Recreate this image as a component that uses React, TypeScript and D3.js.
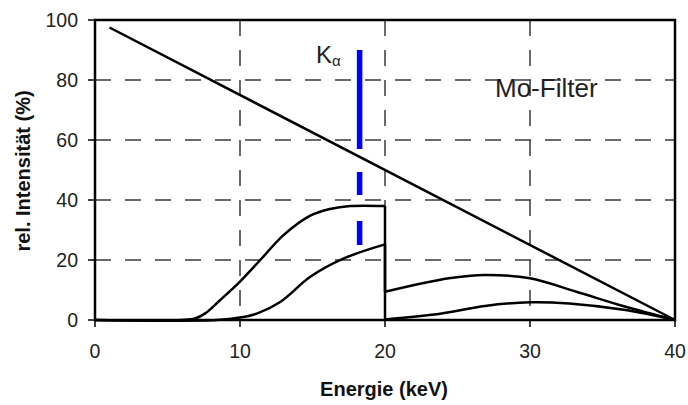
import React from 'react';
import * as d3 from 'd3';

// energy in keV, relative intensity in %
const bremsLine: [number, number][] = [
  [1, 97.5],
  [40, 0],
];

const upperBelowEdge: [number, number][] = [
  [0, 0], [6, 0], [6.9, 0.5], [7.6, 2.2], [8.6, 6.5], [10, 12.8], [11.4, 20], [13, 28.3],
  [14.85, 34.8], [16.2, 37], [17.6, 38], [20, 38],
];
const upperAboveEdge: [number, number][] = [
  [20, 9.4], [24.4, 13.9], [26.9, 15], [30, 13.9], [33.2, 9.4], [36.6, 4.4], [40, 0],
];

const lowerBelowEdge: [number, number][] = [
  [0, 0], [8.4, 0], [10, 0.8], [11.2, 2.2], [12.8, 6.1], [14.85, 14.4], [17.2, 20.6], [20, 25.2],
];
const lowerAboveEdge: [number, number][] = [
  [20, 0.2], [23.9, 2.2], [26.9, 4.7], [30, 5.9], [32.7, 5.5], [36.6, 3.3], [40, 0],
];

const kAlphaEnergy = 18.25;
const kAlphaRange = [25, 90];

const xTicks = [0, 10, 20, 30, 40];
const yTicks = [0, 20, 40, 60, 80, 100];
const xGrid = [10, 20, 30];
const yGrid = [20, 40, 60, 80];

const W = 688;
const H = 405;
const left = 95;
const right = 675;
const top = 20;
const bottom = 320;

export default function App() {
  const x = d3.scaleLinear().domain([0, 40]).range([left, right]);
  const y = d3.scaleLinear().domain([0, 100]).range([bottom, top]);

  const curve = d3
    .line<[number, number]>()
    .x((d) => x(d[0]))
    .y((d) => Math.min(y(d[1]), bottom))
    .curve(d3.curveCatmullRom.alpha(0.5));
  const straight = d3
    .line<[number, number]>()
    .x((d) => x(d[0]))
    .y((d) => y(d[1]));

  // vertical drop at the absorption edge
  const edge = (a: [number, number][], b: [number, number][]) =>
    straight([a[a.length - 1], b[0]]) || '';

  const font = 'Arial, "Liberation Sans", sans-serif';
  const gridStyle = { stroke: '#3a3a3a', strokeWidth: 1.5, strokeDasharray: '16 14' };
  const lineStyle = { fill: 'none', stroke: '#000', strokeWidth: 2.5 };

  return (
    <svg width={W} height={H} style={{ position: 'absolute', left: 0, top: 0 }} fontFamily={font}>
      <rect x={0} y={0} width={W} height={H} fill="#fff" />

      {/* grid */}
      {yGrid.map((v) => (
        <line key={'gy' + v} x1={left} x2={right} y1={y(v)} y2={y(v)} {...gridStyle} />
      ))}
      {xGrid.map((v) => (
        <line key={'gx' + v} x1={x(v)} x2={x(v)} y1={top} y2={bottom} {...gridStyle} />
      ))}

      {/* labels inside */}
      <text x={316} y={63} fontSize={24} fill="#222">
        K
        <tspan fontSize={15} dy={3}>α</tspan>
      </text>
      <text x={495} y={97} fontSize={26} fill="#222">Mo-Filter</text>

      {/* curves */}
      <path d={straight(bremsLine) || ''} {...lineStyle} />
      <path d={curve(upperBelowEdge) || ''} {...lineStyle} />
      <path d={edge(upperBelowEdge, upperAboveEdge)} {...lineStyle} />
      <path d={curve(upperAboveEdge) || ''} {...lineStyle} />
      <path d={curve(lowerBelowEdge) || ''} {...lineStyle} />
      <path d={edge(lowerBelowEdge, lowerAboveEdge)} {...lineStyle} />
      <path d={curve(lowerAboveEdge) || ''} {...lineStyle} />

      {/* K alpha line */}
      <line
        x1={x(kAlphaEnergy)}
        x2={x(kAlphaEnergy)}
        y1={y(kAlphaRange[1])}
        y2={y(kAlphaRange[0])}
        stroke="#0000ff"
        strokeWidth={5.5}
        strokeDasharray="99 23 23 26 30"
      />

      {/* frame */}
      <rect x={left} y={top} width={right - left} height={bottom - top} fill="none" stroke="#000" strokeWidth={2.5} />

      {/* ticks */}
      {yTicks.map((v) => (
        <g key={'yt' + v}>
          <line x1={left - 7} x2={left} y1={y(v)} y2={y(v)} stroke="#000" strokeWidth={1.5} />
          <text x={78} y={y(v)} dy="0.35em" textAnchor="end" fontSize={19.5} fill="#222">
            {v}
          </text>
        </g>
      ))}
      {xTicks.map((v) => (
        <g key={'xt' + v}>
          <line x1={x(v)} x2={x(v)} y1={bottom} y2={bottom + 7} stroke="#000" strokeWidth={1.5} />
          <text x={x(v)} y={358} textAnchor="middle" fontSize={19.5} fill="#222">
            {v}
          </text>
        </g>
      ))}

      {/* axis titles */}
      <text x={384} y={396} textAnchor="middle" fontSize={20} fontWeight="bold" fill="#111">
        Energie (keV)
      </text>
      <text
        transform={`translate(30, ${171}) rotate(-90)`}
        textAnchor="middle"
        fontSize={20}
        fontWeight="bold"
        fill="#111"
      >
        rel. Intensität (%)
      </text>
    </svg>
  );
}
